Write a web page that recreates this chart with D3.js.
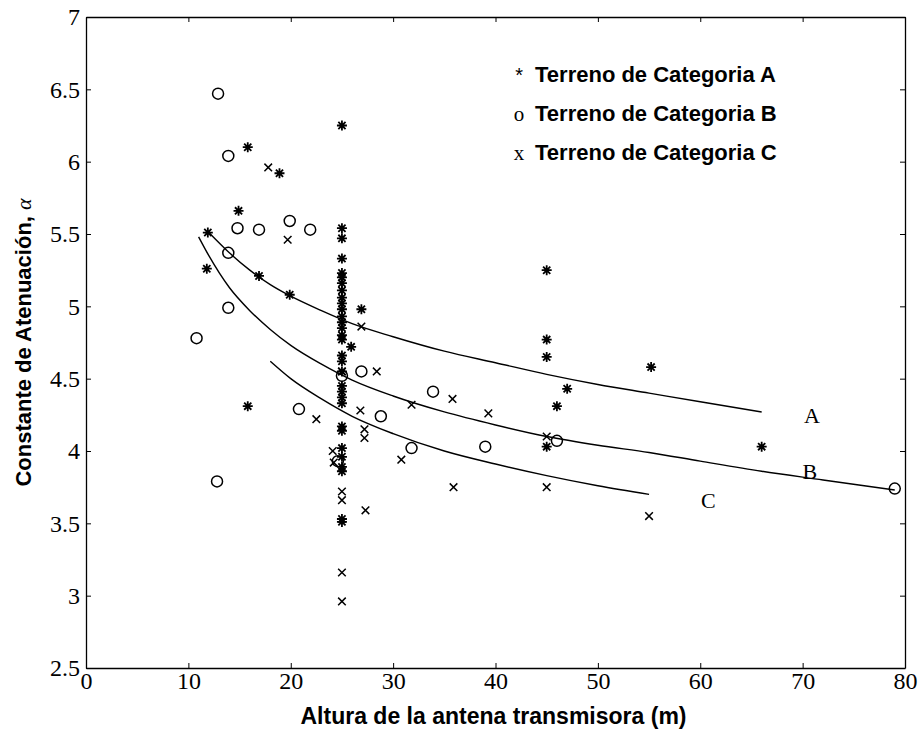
<!DOCTYPE html>
<meta charset="utf-8">
<style>
  body { margin: 0; background: #fff; }
  .tick text { font-family: "Liberation Serif", "Times New Roman", serif; font-size: 24px; fill: #000; }
  .tick line, .domain { stroke: #000; }
</style>
<svg width="920" height="731"></svg>
<script src="https://d3js.org/d3.v7.min.js"></script>
<script>

    // data: [height (m), alpha]
    var catA = [[11.9, 5.51], [11.8, 5.26], [14.9, 5.66], [15.8, 6.10], [18.9, 5.92], [16.9, 5.21],
        [19.9, 5.08], [15.8, 4.31], [25, 6.25], [25, 5.54], [25, 5.47], [25, 5.33], [25, 5.23],
        [25, 5.20], [25, 5.16], [25, 5.11], [25, 5.06], [25, 5.02], [25, 4.98], [25, 4.93],
        [25, 4.89], [25, 4.85], [25, 4.80], [25, 4.77], [25, 4.66], [25, 4.62], [25, 4.55],
        [25, 4.45], [25, 4.41], [25, 4.37], [25, 4.33], [25, 4.17], [25, 4.14], [25, 4.02],
        [25, 3.96], [25, 3.89], [25, 3.86], [25, 3.53], [25, 3.51], [26.9, 4.98], [25.9, 4.72],
        [45, 5.25], [45, 4.77], [45, 4.65], [46, 4.31], [47, 4.43], [45, 4.03], [55.2, 4.58],
        [66, 4.03]];

    var catB = [[12.9, 6.47], [13.9, 6.04], [14.8, 5.54], [16.9, 5.53], [19.9, 5.59], [21.9, 5.53],
        [13.9, 5.37], [13.9, 4.99], [10.8, 4.78], [12.8, 3.79], [20.8, 4.29], [26.9, 4.55],
        [28.8, 4.24], [31.8, 4.02], [33.9, 4.41], [39, 4.03], [46, 4.07], [79, 3.74],
        [25, 4.52], [24.6, 3.93]];

    var catC = [[17.8, 5.96], [19.7, 5.46], [26.9, 4.86], [28.4, 4.55], [22.5, 4.22], [24.1, 4.00],
        [24.2, 3.92], [26.8, 4.28], [27.2, 4.15], [27.2, 4.09], [27.3, 3.59], [25, 3.72],
        [25, 3.66], [25, 3.16], [25, 2.96], [25, 4.55], [30.8, 3.94], [31.8, 4.32], [35.8, 4.36],
        [35.9, 3.75], [39.3, 4.26], [45, 4.10], [45, 3.75], [55, 3.55]];

    // fitted curves
    var fitA = [[12, 5.51], [14, 5.37], [16, 5.25], [18, 5.15], [20, 5.07], [23, 4.97], [26, 4.88],
        [30, 4.79], [35, 4.69], [40, 4.61], [45, 4.53], [50, 4.46], [55, 4.40], [60, 4.34], [66, 4.27]];
    var fitB = [[11, 5.48], [12, 5.35], [14, 5.13], [16, 4.97], [18, 4.84], [20, 4.73], [23, 4.60],
        [26, 4.49], [30, 4.38], [35, 4.27], [40, 4.18], [45, 4.10], [50, 4.04], [55, 3.99],
        [60, 3.93], [66, 3.86], [72, 3.80], [79, 3.73]];
    var fitC = [[18, 4.62], [20, 4.50], [23, 4.36], [26, 4.24], [30, 4.12], [35, 4.00], [40, 3.91],
        [45, 3.83], [50, 3.76], [55, 3.70]];

    var curveLabels = [["A", 70.9, 4.25], ["B", 70.7, 3.86], ["C", 60.8, 3.66]];
    var legendLabels = ["Terreno de Categoria A", "Terreno de Categoria B", "Terreno de Categoria C"];
    var legendSymbols = ["*", "o", "x"];

    var xTicks = [0, 10, 20, 30, 40, 50, 60, 70, 80];
    var yTicks = [2.5, 3, 3.5, 4, 4.5, 5, 5.5, 6, 6.5, 7];

    var svg = d3.select("svg"),
        margin = {top: 17, right: 15, bottom: 63, left: 86},
        width = +svg.attr("width") - margin.left - margin.right,
        height = +svg.attr("height") - margin.top - margin.bottom;

    var g = svg.append("g")
        .attr("transform", "translate(" + margin.left + "," + margin.top + ")");

    var x = d3.scaleLinear().domain([0, 80]).range([0, width]);
    var y = d3.scaleLinear().domain([2.5, 7]).range([height, 0]);

    // axes, ticks pointing inward like the matlab box
    g.append("g")
        .attr("transform", "translate(0," + height + ")")
        .call(d3.axisBottom(x).tickValues(xTicks).tickSizeInner(-5).tickSizeOuter(0).tickPadding(4));
    g.append("g")
        .call(d3.axisLeft(y).tickValues(yTicks).tickFormat(d3.format("")).tickSizeInner(-5).tickSizeOuter(0).tickPadding(6));
    g.append("g")
        .call(d3.axisTop(x).tickValues(xTicks).tickFormat("").tickSizeInner(-5).tickSizeOuter(0));
    g.append("g")
        .attr("transform", "translate(" + width + ",0)")
        .call(d3.axisRight(y).tickValues(yTicks).tickFormat("").tickSizeInner(-5).tickSizeOuter(0));

    g.selectAll(".domain").attr("stroke-width", 1.3);

    // fitted lines
    var line = d3.line()
        .x(function(d) { return x(d[0]); })
        .y(function(d) { return y(d[1]); })
        .curve(d3.curveMonotoneX);

    [fitA, fitB, fitC].forEach(function(f) {
        g.append("path")
            .datum(f)
            .attr("d", line)
            .attr("fill", "none")
            .attr("stroke", "#000")
            .attr("stroke-width", 1.4);
    });

    // markers
    function asterisk(s) {
        var d = s * 0.72;
        return "M" + (-s) + ",0L" + s + ",0M0," + (-s) + "L0," + s +
            "M" + (-d) + "," + (-d) + "L" + d + "," + d + "M" + (-d) + "," + d + "L" + d + "," + (-d);
    }
    function cross(s) {
        return "M" + (-s) + "," + (-s) + "L" + s + "," + s + "M" + (-s) + "," + s + "L" + s + "," + (-s);
    }

    g.append("g").selectAll("path")
        .data(catC)
        .enter().append("path")
        .attr("transform", function(d) { return "translate(" + x(d[0]) + "," + y(d[1]) + ")"; })
        .attr("d", cross(3.8))
        .attr("stroke", "#000")
        .attr("stroke-width", 1.5)
        .attr("fill", "none");

    g.append("g").selectAll("circle")
        .data(catB)
        .enter().append("circle")
        .attr("cx", function(d) { return x(d[0]); })
        .attr("cy", function(d) { return y(d[1]); })
        .attr("r", 5.5)
        .attr("stroke", "#000")
        .attr("stroke-width", 1.5)
        .attr("fill", "none");

    g.append("g").selectAll("path")
        .data(catA)
        .enter().append("path")
        .attr("transform", function(d) { return "translate(" + x(d[0]) + "," + y(d[1]) + ")"; })
        .attr("d", asterisk(5))
        .attr("stroke", "#000")
        .attr("stroke-width", 1.8)
        .attr("fill", "none");

    // curve labels
    g.selectAll(".clabel")
        .data(curveLabels)
        .enter().append("text")
        .attr("class", "clabel")
        .attr("x", function(d) { return x(d[1]); })
        .attr("y", function(d) { return y(d[2]); })
        .attr("dy", "0.35em")
        .attr("text-anchor", "middle")
        .style("font-family", "Liberation Serif, serif")
        .style("font-size", "22px")
        .text(function(d) { return d[0]; });

    // legend
    var legend = g.append("g")
        .attr("transform", "translate(" + (x(42.3)) + "," + y(6.55) + ")");
    legendLabels.forEach(function(t, i) {
        legend.append("text")
            .attr("x", 0)
            .attr("y", i * 39)
            .attr("text-anchor", "middle")
            .style("font-family", i == 0 ? "Liberation Sans, Arial, sans-serif" : "Liberation Serif, serif")
            .style("font-size", i == 0 ? "20px" : "21px")
            .text(legendSymbols[i]);
        legend.append("text")
            .attr("x", 16)
            .attr("y", i * 39)
            .style("font-family", "Liberation Sans, Arial, sans-serif")
            .style("font-weight", "bold")
            .style("font-size", "22px")
            .text(t);
    });

    // axis titles
    svg.append("text")
        .attr("x", margin.left + width / 2 - 2)
        .attr("y", 724)
        .attr("text-anchor", "middle")
        .style("font-family", "Liberation Sans, Arial, sans-serif")
        .style("font-weight", "bold")
        .style("font-size", "23px")
        .text("Altura de la antena transmisora (m)");

    var yt = svg.append("text")
        .attr("transform", "translate(31," + (margin.top + height / 2) + ") rotate(-90)")
        .attr("text-anchor", "middle")
        .style("font-family", "Liberation Sans, Arial, sans-serif")
        .style("font-weight", "bold")
        .style("font-size", "22px");
    yt.append("tspan").text("Constante de Atenuación, ");
    yt.append("tspan")
        .style("font-family", "Liberation Serif, serif")
        .style("font-weight", "normal")
        .style("font-style", "italic")
        .text("α");

</script>
